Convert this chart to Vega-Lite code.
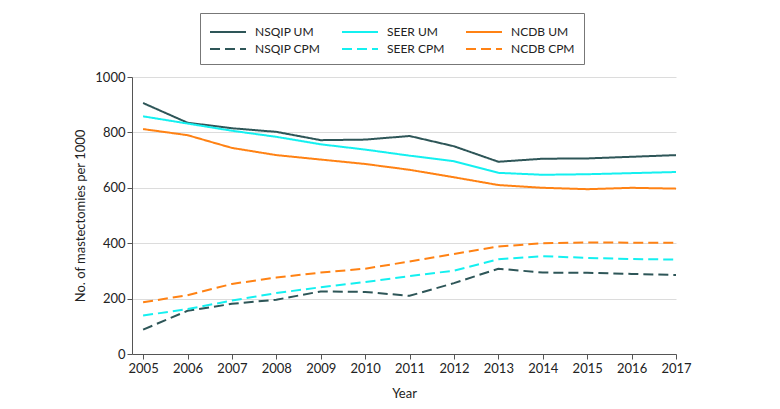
{
  "$schema": "https://vega.github.io/schema/vega-lite/v6.json",
  "autosize": {"type": "none"},
  "padding": {"left": 132, "top": 77, "right": 104, "bottom": 55},
  "width": 544,
  "height": 277,
  "background": "white",
  "config": {
    "font": "Lato",
    "view": {"stroke": null},
    "axis": {"labelFont": "Lato", "titleFont": "Lato", "labelFontSize": 13, "titleFontSize": 13, "titleFontWeight": "normal", "labelColor": "#222", "titleColor": "#222", "domainColor": "#555", "tickColor": "#555", "gridColor": "#dcdcdc"}
  },
  "data": {"values": [
    {"year": 2005, "series": "NSQIP UM", "v": 906},
    {"year": 2006, "series": "NSQIP UM", "v": 835},
    {"year": 2007, "series": "NSQIP UM", "v": 815},
    {"year": 2008, "series": "NSQIP UM", "v": 802},
    {"year": 2009, "series": "NSQIP UM", "v": 772},
    {"year": 2010, "series": "NSQIP UM", "v": 774},
    {"year": 2011, "series": "NSQIP UM", "v": 787},
    {"year": 2012, "series": "NSQIP UM", "v": 750},
    {"year": 2013, "series": "NSQIP UM", "v": 694},
    {"year": 2014, "series": "NSQIP UM", "v": 705},
    {"year": 2015, "series": "NSQIP UM", "v": 706},
    {"year": 2016, "series": "NSQIP UM", "v": 712},
    {"year": 2017, "series": "NSQIP UM", "v": 718},
    {"year": 2005, "series": "SEER UM", "v": 858},
    {"year": 2006, "series": "SEER UM", "v": 832},
    {"year": 2007, "series": "SEER UM", "v": 806},
    {"year": 2008, "series": "SEER UM", "v": 784},
    {"year": 2009, "series": "SEER UM", "v": 757},
    {"year": 2010, "series": "SEER UM", "v": 738},
    {"year": 2011, "series": "SEER UM", "v": 716},
    {"year": 2012, "series": "SEER UM", "v": 696},
    {"year": 2013, "series": "SEER UM", "v": 654},
    {"year": 2014, "series": "SEER UM", "v": 647},
    {"year": 2015, "series": "SEER UM", "v": 649},
    {"year": 2016, "series": "SEER UM", "v": 653},
    {"year": 2017, "series": "SEER UM", "v": 657},
    {"year": 2005, "series": "NCDB UM", "v": 812},
    {"year": 2006, "series": "NCDB UM", "v": 790},
    {"year": 2007, "series": "NCDB UM", "v": 744},
    {"year": 2008, "series": "NCDB UM", "v": 718},
    {"year": 2009, "series": "NCDB UM", "v": 702},
    {"year": 2010, "series": "NCDB UM", "v": 686},
    {"year": 2011, "series": "NCDB UM", "v": 665},
    {"year": 2012, "series": "NCDB UM", "v": 638},
    {"year": 2013, "series": "NCDB UM", "v": 610},
    {"year": 2014, "series": "NCDB UM", "v": 600},
    {"year": 2015, "series": "NCDB UM", "v": 595},
    {"year": 2016, "series": "NCDB UM", "v": 600},
    {"year": 2017, "series": "NCDB UM", "v": 597},
    {"year": 2005, "series": "NSQIP CPM", "v": 88},
    {"year": 2006, "series": "NSQIP CPM", "v": 156},
    {"year": 2007, "series": "NSQIP CPM", "v": 181},
    {"year": 2008, "series": "NSQIP CPM", "v": 196},
    {"year": 2009, "series": "NSQIP CPM", "v": 226},
    {"year": 2010, "series": "NSQIP CPM", "v": 224},
    {"year": 2011, "series": "NSQIP CPM", "v": 210},
    {"year": 2012, "series": "NSQIP CPM", "v": 256},
    {"year": 2013, "series": "NSQIP CPM", "v": 308},
    {"year": 2014, "series": "NSQIP CPM", "v": 294},
    {"year": 2015, "series": "NSQIP CPM", "v": 293},
    {"year": 2016, "series": "NSQIP CPM", "v": 289},
    {"year": 2017, "series": "NSQIP CPM", "v": 285},
    {"year": 2005, "series": "SEER CPM", "v": 139},
    {"year": 2006, "series": "SEER CPM", "v": 162},
    {"year": 2007, "series": "SEER CPM", "v": 193},
    {"year": 2008, "series": "SEER CPM", "v": 220},
    {"year": 2009, "series": "SEER CPM", "v": 241},
    {"year": 2010, "series": "SEER CPM", "v": 260},
    {"year": 2011, "series": "SEER CPM", "v": 281},
    {"year": 2012, "series": "SEER CPM", "v": 301},
    {"year": 2013, "series": "SEER CPM", "v": 342},
    {"year": 2014, "series": "SEER CPM", "v": 353},
    {"year": 2015, "series": "SEER CPM", "v": 347},
    {"year": 2016, "series": "SEER CPM", "v": 343},
    {"year": 2017, "series": "SEER CPM", "v": 341},
    {"year": 2005, "series": "NCDB CPM", "v": 187},
    {"year": 2006, "series": "NCDB CPM", "v": 212},
    {"year": 2007, "series": "NCDB CPM", "v": 253},
    {"year": 2008, "series": "NCDB CPM", "v": 276},
    {"year": 2009, "series": "NCDB CPM", "v": 294},
    {"year": 2010, "series": "NCDB CPM", "v": 308},
    {"year": 2011, "series": "NCDB CPM", "v": 334},
    {"year": 2012, "series": "NCDB CPM", "v": 361},
    {"year": 2013, "series": "NCDB CPM", "v": 388},
    {"year": 2014, "series": "NCDB CPM", "v": 400},
    {"year": 2015, "series": "NCDB CPM", "v": 403},
    {"year": 2016, "series": "NCDB CPM", "v": 402},
    {"year": 2017, "series": "NCDB CPM", "v": 402}
  ]},
  "mark": {"type": "line", "strokeWidth": 2},
  "encoding": {
    "x": {
      "field": "year", "type": "quantitative", "title": "Year",
      "scale": {"domain": [2004.75, 2017], "nice": false, "zero": false},
      "axis": {"values": [2005, 2006, 2007, 2008, 2009, 2010, 2011, 2012, 2013, 2014, 2015, 2016, 2017], "format": "d", "grid": false, "labelFlush": false, "tickSize": 5, "labelPadding": 3, "titlePadding": 12}
    },
    "y": {
      "field": "v", "type": "quantitative", "title": "No. of mastectomies per 1000",
      "scale": {"domain": [0, 1000], "nice": false},
      "axis": {"values": [0, 200, 400, 600, 800, 1000], "format": "d", "grid": true, "tickSize": 5, "labelPadding": 2, "titlePadding": 7}
    },
    "color": {
      "field": "series", "type": "nominal",
      "sort": ["NSQIP UM", "SEER UM", "NCDB UM", "NSQIP CPM", "SEER CPM", "NCDB CPM"],
      "scale": {"domain": ["NSQIP UM", "SEER UM", "NCDB UM", "NSQIP CPM", "SEER CPM", "NCDB CPM"], "range": ["#2E5658", "#14F0F0", "#FF8214", "#2E5658", "#14F0F0", "#FF8214"]},
      "legend": {
        "title": null, "orient": "none", "legendX": 68, "legendY": -64, "columns": 3,
        "symbolType": "M-1,0H3", "symbolSize": 324, "symbolStrokeWidth": 2, "symbolFillColor": "transparent",
        "labelFont": "Lato", "labelFontSize": 12, "labelColor": "#222",
        "strokeColor": "#777", "padding": 9, "rowPadding": 1, "columnPadding": 17, "labelOffset": 26,
        "direction": "horizontal"
      }
    },
    "strokeDash": {
      "field": "series", "type": "nominal",
      "sort": ["NSQIP UM", "SEER UM", "NCDB UM", "NSQIP CPM", "SEER CPM", "NCDB CPM"],
      "scale": {"domain": ["NSQIP UM", "SEER UM", "NCDB UM", "NSQIP CPM", "SEER CPM", "NCDB CPM"], "range": [[1, 0], [1, 0], [1, 0], [10, 5], [10, 5], [10, 5]]},
      "legend": {
        "title": null, "orient": "none", "legendX": 68, "legendY": -64, "columns": 3,
        "symbolType": "M-1,0H3", "symbolSize": 324, "symbolStrokeWidth": 2, "symbolFillColor": "transparent",
        "labelFont": "Lato", "labelFontSize": 12, "labelColor": "#222",
        "strokeColor": "#777", "padding": 9, "rowPadding": 1, "columnPadding": 17, "labelOffset": 26,
        "direction": "horizontal"
      }
    }
  }
}
